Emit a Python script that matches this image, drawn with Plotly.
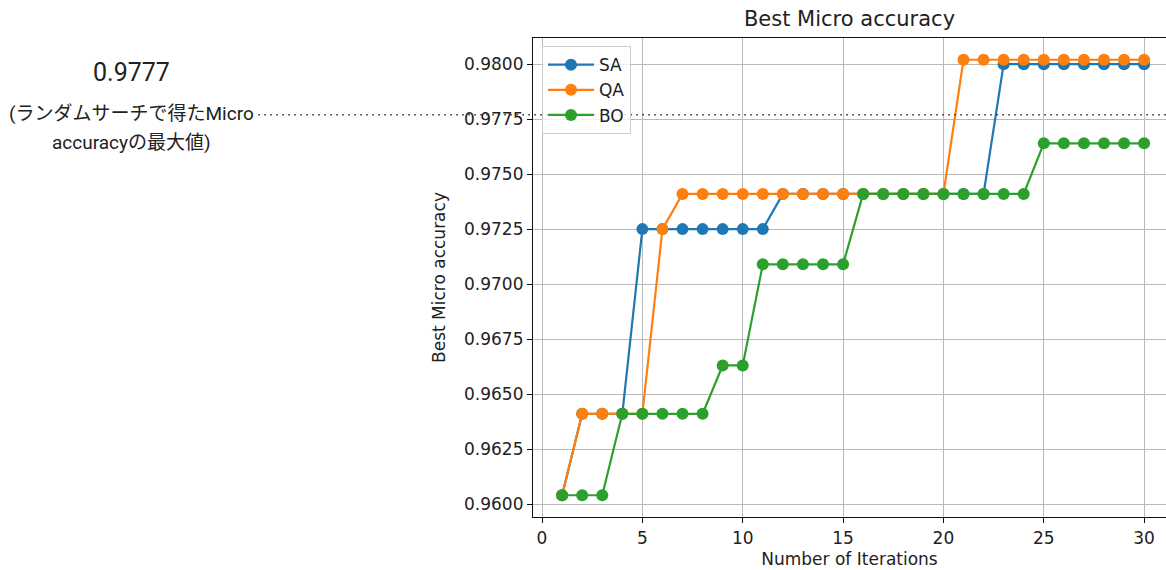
import plotly.graph_objects as go

iterations = list(range(1, 31))
sa = [0.9604, 0.9641, 0.9641, 0.9641, 0.9725, 0.9725, 0.9725, 0.9725, 0.9725, 0.9725,
      0.9725, 0.9741, 0.9741, 0.9741, 0.9741, 0.9741, 0.9741, 0.9741, 0.9741, 0.9741,
      0.9741, 0.9741, 0.9800, 0.9800, 0.9800, 0.9800, 0.9800, 0.9800, 0.9800, 0.9800]
qa = [0.9604, 0.9641, 0.9641, 0.9641, 0.9641, 0.9725, 0.9741, 0.9741, 0.9741, 0.9741,
      0.9741, 0.9741, 0.9741, 0.9741, 0.9741, 0.9741, 0.9741, 0.9741, 0.9741, 0.9741,
      0.9802, 0.9802, 0.9802, 0.9802, 0.9802, 0.9802, 0.9802, 0.9802, 0.9802, 0.9802]
bo = [0.9604, 0.9604, 0.9604, 0.9641, 0.9641, 0.9641, 0.9641, 0.9641, 0.9663, 0.9663,
      0.9709, 0.9709, 0.9709, 0.9709, 0.9709, 0.9741, 0.9741, 0.9741, 0.9741, 0.9741,
      0.9741, 0.9741, 0.9741, 0.9741, 0.9764, 0.9764, 0.9764, 0.9764, 0.9764, 0.9764]
series_names = ["SA", "QA", "BO"]
colors = ["#1f77b4", "#ff7f0e", "#2ca02c"]
random_search_best = 0.9777
x_ticks = [0, 5, 10, 15, 20, 25, 30]
y_ticks = [0.9600, 0.9625, 0.9650, 0.9675, 0.9700, 0.9725, 0.9750, 0.9775, 0.9800]

FONT = "DejaVu Sans"
JP_FONT = "Roboto, 'Noto Sans CJK JP', sans-serif"

fig = go.Figure()
for name, vals, col in zip(series_names, [sa, qa, bo], colors):
    fig.add_trace(go.Scatter(
        x=iterations, y=vals, name=name, mode="lines+markers",
        line=dict(color=col, width=2.2),
        marker=dict(color=col, size=12),
    ))

# Dotted reference line (random search best), extending left into the margin
fig.add_shape(type="line", xref="paper", yref="y", x0=-0.434, x1=1,
              y0=random_search_best, y1=random_search_best,
              line=dict(color="#333333", width=1.6, dash="1.6px,4.4px"),
              layer="above")

fig.add_annotation(xref="paper", yref="paper", x=-0.6335, y=0.927,
                   text=f"{random_search_best:.4f}", showarrow=False,
                   xanchor="center", yanchor="middle",
                   font=dict(family=JP_FONT, size=25, color="#222222"))
fig.add_annotation(xref="paper", yref="paper", x=-0.6335, y=0.8434,
                   text="(ランダムサーチで得たMicro", showarrow=False,
                   xanchor="center", yanchor="middle",
                   font=dict(family=JP_FONT, size=19, color="#222222"))
fig.add_annotation(xref="paper", yref="paper", x=-0.6335, y=0.7808,
                   text="accuracyの最大値)", showarrow=False,
                   xanchor="center", yanchor="middle",
                   font=dict(family=JP_FONT, size=19, color="#222222"))

fig.update_layout(
    width=1166, height=570,
    margin=dict(l=533, r=0, t=38, b=53),
    paper_bgcolor="white", plot_bgcolor="white",
    font=dict(family=FONT, size=17, color="#222222"),
    title=dict(text="Best Micro accuracy", x=0.5, xref="paper",
               y=1 - 19 / 570, yanchor="middle", xanchor="center",
               font=dict(family=FONT, size=21, color="#222222")),
    legend=dict(x=0.0142, y=0.983, xanchor="left", yanchor="top",
                bgcolor="rgba(255,255,255,0.8)", bordercolor="#cccccc", borderwidth=1,
                itemwidth=46,
                font=dict(family=FONT, size=17, color="#222222")),
    showlegend=True,
)
fig.update_xaxes(
    range=[-0.45, 31.09], tickvals=x_ticks, ticktext=[str(t) for t in x_ticks],
    showgrid=True, gridcolor="#bababa", gridwidth=1,
    showline=True, linecolor="#111111", linewidth=1.2, mirror=True,
    ticks="outside", ticklen=5, tickcolor="#111111",
    zeroline=False,
    title=dict(text="Number of Iterations", font=dict(family=FONT, size=17), standoff=6),
)
fig.update_yaxes(
    range=[0.95941, 0.98119], tickvals=y_ticks, ticktext=[f"{t:.4f}" for t in y_ticks],
    showgrid=True, gridcolor="#bababa", gridwidth=1,
    showline=True, linecolor="#111111", linewidth=1.2, mirror=False,
    ticks="outside", ticklen=5, tickcolor="#111111",
    zeroline=False,
    title=dict(text="Best Micro accuracy", font=dict(family=FONT, size=17), standoff=14),
)

fig.write_html("out.html", config={"displayModeBar": False},
               post_script="document.body.style.margin='0';document.body.style.overflow='hidden';")
